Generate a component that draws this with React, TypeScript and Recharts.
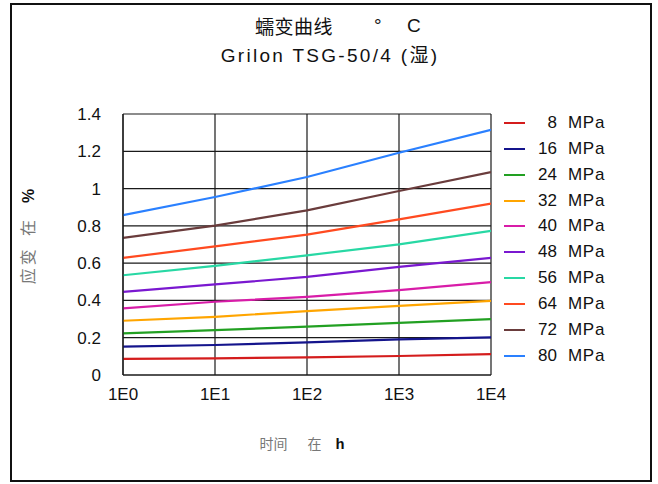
import { LineChart, Line, XAxis, YAxis, CartesianGrid } from 'recharts';

// time in hours, log axis
const hours = [1, 10, 100, 1000, 10000];
const xTickLabels = ['1E0', '1E1', '1E2', '1E3', '1E4'];
const yTicks = [0, 0.2, 0.4, 0.6, 0.8, 1, 1.2, 1.4];

// strain in % per stress level
const stressLevels = ['8', '16', '24', '32', '40', '48', '56', '64', '72', '80'];
const strain8 = [0.086, 0.089, 0.095, 0.102, 0.112];
const strain16 = [0.152, 0.161, 0.175, 0.191, 0.202];
const strain24 = [0.223, 0.241, 0.259, 0.28, 0.3];
const strain32 = [0.291, 0.312, 0.343, 0.371, 0.398];
const strain40 = [0.357, 0.393, 0.419, 0.455, 0.498];
const strain48 = [0.446, 0.486, 0.526, 0.58, 0.628];
const strain56 = [0.535, 0.585, 0.642, 0.701, 0.773];
const strain64 = [0.628, 0.69, 0.753, 0.835, 0.919];
const strain72 = [0.735, 0.801, 0.883, 0.987, 1.088];
const strain80 = [0.857, 0.955, 1.062, 1.192, 1.315];

const seriesValues = [
  strain8, strain16, strain24, strain32, strain40,
  strain48, strain56, strain64, strain72, strain80,
];

const COLORS = [
  '#d41c1c', '#14148c', '#22a022', '#ffa500', '#d81ca8',
  '#7a18d0', '#28d8a4', '#ff4a20', '#6a3c3c', '#2a80ff',
];

const chartData = hours.map((h, i) => {
  const row: Record<string, number> = { h };
  stressLevels.forEach((s, k) => {
    row['s' + s] = seriesValues[k][i];
  });
  return row;
});

const FONT = '"Liberation Sans", Arial, sans-serif';
const CJK = '"Noto Sans CJK SC", sans-serif';

export default function App() {
  return (
    <div style={{ position: 'absolute', left: 0, top: 0, width: 658, height: 484, background: '#fff' }}>
      <div
        style={{
          position: 'absolute',
          left: 10,
          top: 3,
          width: 642,
          height: 479,
          boxSizing: 'border-box',
          border: '2px solid #111',
        }}
      />

      {/* title */}
      <div
        style={{
          position: 'absolute',
          left: 255,
          top: 11,
          fontFamily: CJK,
          fontSize: 19,
          letterSpacing: 0.5,
          color: '#111',
          lineHeight: '30px',
          whiteSpace: 'nowrap',
        }}
      >
        蠕变曲线
      </div>
      <div style={{ position: 'absolute', left: 374, top: 11, fontFamily: FONT, fontSize: 19, lineHeight: '30px', color: '#111' }}>°</div>
      <div style={{ position: 'absolute', left: 407, top: 11, fontFamily: FONT, fontSize: 19, lineHeight: '30px', color: '#111' }}>C</div>
      <div
        style={{
          position: 'absolute',
          left: 0,
          width: 658,
          top: 41,
          paddingLeft: 2,
          boxSizing: 'border-box',
          textAlign: 'center',
          fontFamily: FONT + ', "Noto Sans CJK SC"',
          fontSize: 19,
          letterSpacing: 2.3,
          color: '#111',
          lineHeight: '30px',
          whiteSpace: 'nowrap',
        }}
      >
        Grilon TSG-50/4 (湿)
      </div>

      <LineChart
        width={658}
        height={484}
        data={chartData}
        margin={{ top: 114, right: 167, bottom: 79, left: 63 }}
      >
        <CartesianGrid stroke="#1a1a1a" strokeWidth={1.2} />
        <XAxis
          dataKey="h"
          type="number"
          scale="log"
          domain={[1, 10000]}
          ticks={hours}
          allowDataOverflow
          height={30}
          tickLine={false}
          tickSize={0}
          tickMargin={13}
          axisLine={{ stroke: '#1a1a1a', strokeWidth: 1.2 }}
          tick={{ fill: '#111', fontSize: 17, fontFamily: FONT }}
          tickFormatter={(v: number) => xTickLabels[hours.indexOf(v)] ?? ''}
        />
        <YAxis
          type="number"
          domain={[0, 1.4]}
          ticks={yTicks}
          width={60}
          tickLine={false}
          tickSize={0}
          tickMargin={22}
          axisLine={{ stroke: '#1a1a1a', strokeWidth: 1.2 }}
          tick={{ fill: '#111', fontSize: 17, fontFamily: FONT }}
          tickFormatter={(v: number) => String(v)}
        />
        {stressLevels.map((s, k) => (
          <Line
            key={s}
            dataKey={'s' + s}
            type="linear"
            stroke={COLORS[k]}
            strokeWidth={2.2}
            dot={false}
            isAnimationActive={false}
          />
        ))}
      </LineChart>

      {/* legend */}
      {stressLevels.map((s, k) => (
        <div
          key={s}
          style={{
            position: 'absolute',
            left: 504,
            top: 123 + k * 25.85 - 12,
            height: 24,
            display: 'flex',
            alignItems: 'center',
            fontFamily: FONT,
            fontSize: 17,
            color: '#111',
          }}
        >
          <div style={{ width: 21, height: 2, background: COLORS[k] }} />
          <div style={{ width: 32, textAlign: 'right' }}>{s}</div>
          <div style={{ marginLeft: 11, letterSpacing: 0.7 }}>MPa</div>
        </div>
      ))}

      {/* y axis title */}
      <div
        style={{
          position: 'absolute',
          left: 27,
          top: 235,
          transform: 'translate(-50%, -50%) rotate(-90deg)',
          whiteSpace: 'nowrap',
          fontSize: 16,
          fontFamily: CJK,
          color: '#777',
          letterSpacing: 3,
        }}
      >
        <span>应变</span>
        <span style={{ marginLeft: 10 }}>在</span>
        <span style={{ marginLeft: 14, color: '#111', fontWeight: 'bold', fontFamily: FONT }}>%</span>
      </div>

      {/* x axis title */}
      <div
        style={{
          position: 'absolute',
          left: 302,
          top: 443,
          transform: 'translate(-50%, -50%)',
          whiteSpace: 'nowrap',
          fontSize: 14,
          fontFamily: CJK,
          color: '#777',
        }}
      >
        <span>时间</span>
        <span style={{ marginLeft: 20 }}>在</span>
        <span style={{ marginLeft: 14, color: '#111', fontWeight: 'bold', fontFamily: '"Liberation Mono", monospace', fontSize: 15 }}>h</span>
      </div>
    </div>
  );
}
